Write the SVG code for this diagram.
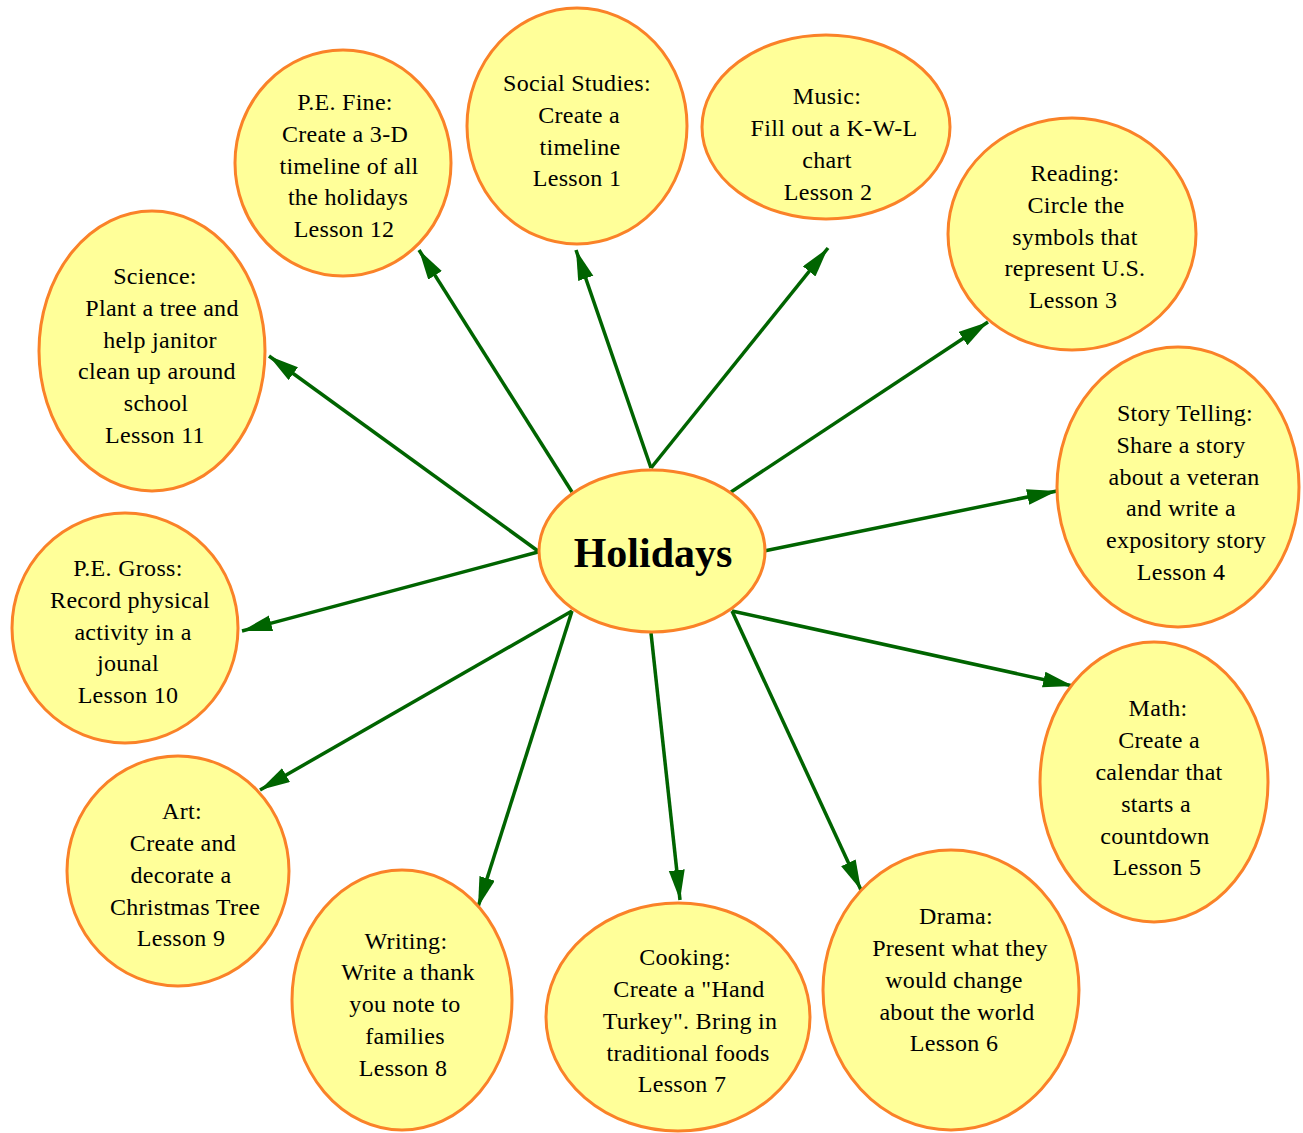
<svg xmlns="http://www.w3.org/2000/svg" width="1303" height="1133" viewBox="0 0 1303 1133">
<style>
.n{fill:#ffff99;stroke:#fa8228;stroke-width:3}
.t{font-family:"Liberation Serif","Times New Roman",serif;font-size:24px;letter-spacing:0.3px;fill:#000;text-anchor:middle;dominant-baseline:central}
.h{font-family:"Liberation Serif","Times New Roman",serif;font-size:42px;font-weight:bold;fill:#000;text-anchor:middle;dominant-baseline:central}
.e{stroke:#006400;stroke-width:3.5;fill:none;marker-end:url(#ah)}
</style>
<defs>
<marker id="ah" markerUnits="userSpaceOnUse" markerWidth="32" markerHeight="18" refX="30" refY="8" orient="auto">
<path d="M0,0 L30,8 L0,16 Z" fill="#006400"/>
</marker>
</defs>
<rect width="1303" height="1133" fill="#fff"/>
<g id="edges">
<line class="e" x1="651" y1="468" x2="576" y2="250"/>
<line class="e" x1="651" y1="468" x2="828" y2="248"/>
<line class="e" x1="572" y1="492" x2="419" y2="250"/>
<line class="e" x1="731" y1="492" x2="988" y2="322"/>
<line class="e" x1="538" y1="551" x2="269" y2="356"/>
<line class="e" x1="764" y1="551" x2="1057" y2="491"/>
<line class="e" x1="538" y1="552" x2="242" y2="631"/>
<line class="e" x1="732" y1="611" x2="1073" y2="686"/>
<line class="e" x1="572" y1="611" x2="260" y2="790"/>
<line class="e" x1="572" y1="611" x2="478" y2="907"/>
<line class="e" x1="651" y1="633" x2="680" y2="900"/>
<line class="e" x1="732" y1="611" x2="861" y2="890"/>
</g>
<g id="holidays">
<ellipse class="n" cx="652" cy="551" rx="113" ry="81"/>
<text class="h" x="653" y="553">Holidays</text>
</g>
<g id="social">
<ellipse class="n" cx="577" cy="126" rx="110" ry="118"/>
<text class="t" x="577" y="83">Social Studies:</text>
<text class="t" x="579" y="115">Create a</text>
<text class="t" x="580" y="147">timeline</text>
<text class="t" x="577" y="178">Lesson 1</text>
</g>
<g id="music">
<ellipse class="n" cx="826" cy="127" rx="124" ry="92"/>
<text class="t" x="827" y="96">Music:</text>
<text class="t" x="834" y="128">Fill out a K-W-L</text>
<text class="t" x="827" y="160">chart</text>
<text class="t" x="828" y="192">Lesson 2</text>
</g>
<g id="pefine">
<ellipse class="n" cx="343" cy="163" rx="108" ry="113"/>
<text class="t" x="345" y="102">P.E. Fine:</text>
<text class="t" x="345" y="134">Create a 3-D</text>
<text class="t" x="349" y="166">timeline of all</text>
<text class="t" x="348" y="197">the holidays</text>
<text class="t" x="344" y="229">Lesson 12</text>
</g>
<g id="reading">
<ellipse class="n" cx="1072" cy="234" rx="124" ry="116"/>
<text class="t" x="1075" y="173">Reading:</text>
<text class="t" x="1076" y="205">Circle the</text>
<text class="t" x="1075" y="237">symbols that</text>
<text class="t" x="1075" y="268">represent U.S.</text>
<text class="t" x="1073" y="300">Lesson 3</text>
</g>
<g id="science">
<ellipse class="n" cx="152" cy="351" rx="113" ry="140"/>
<text class="t" x="155" y="276">Science:</text>
<text class="t" x="162" y="308">Plant a tree and</text>
<text class="t" x="160" y="340">help janitor</text>
<text class="t" x="157" y="371">clean up around</text>
<text class="t" x="156" y="403">school</text>
<text class="t" x="155" y="435">Lesson 11</text>
</g>
<g id="story">
<ellipse class="n" cx="1178" cy="487" rx="121" ry="140"/>
<text class="t" x="1185" y="413">Story Telling:</text>
<text class="t" x="1181" y="445">Share a story</text>
<text class="t" x="1184" y="477">about a veteran</text>
<text class="t" x="1181" y="508">and write a</text>
<text class="t" x="1186" y="540">expository story</text>
<text class="t" x="1181" y="572">Lesson 4</text>
</g>
<g id="pegross">
<ellipse class="n" cx="125" cy="628" rx="113" ry="115"/>
<text class="t" x="128" y="568">P.E. Gross:</text>
<text class="t" x="130" y="600">Record physical</text>
<text class="t" x="133" y="632">activity in a</text>
<text class="t" x="128" y="663">jounal</text>
<text class="t" x="128" y="695">Lesson 10</text>
</g>
<g id="math">
<ellipse class="n" cx="1154" cy="782" rx="114" ry="140"/>
<text class="t" x="1158" y="708">Math:</text>
<text class="t" x="1159" y="740">Create a</text>
<text class="t" x="1159" y="772">calendar that</text>
<text class="t" x="1156" y="804">starts a</text>
<text class="t" x="1155" y="836">countdown</text>
<text class="t" x="1157" y="867">Lesson 5</text>
</g>
<g id="art">
<ellipse class="n" cx="178" cy="871" rx="111" ry="115"/>
<text class="t" x="182" y="811">Art:</text>
<text class="t" x="183" y="843">Create and</text>
<text class="t" x="181" y="875">decorate a</text>
<text class="t" x="185" y="907">Christmas Tree</text>
<text class="t" x="181" y="938">Lesson 9</text>
</g>
<g id="writing">
<ellipse class="n" cx="402" cy="1000" rx="110" ry="130"/>
<text class="t" x="406" y="941">Writing:</text>
<text class="t" x="408" y="972">Write a thank</text>
<text class="t" x="405" y="1004">you note to</text>
<text class="t" x="405" y="1036">families</text>
<text class="t" x="403" y="1068">Lesson 8</text>
</g>
<g id="cooking">
<ellipse class="n" cx="678" cy="1017" rx="132" ry="114"/>
<text class="t" x="685" y="957">Cooking:</text>
<text class="t" x="689" y="989">Create a "Hand</text>
<text class="t" x="690" y="1021">Turkey". Bring in</text>
<text class="t" x="688" y="1053">traditional foods</text>
<text class="t" x="682" y="1084">Lesson 7</text>
</g>
<g id="drama">
<ellipse class="n" cx="951" cy="990" rx="128" ry="140"/>
<text class="t" x="956" y="916">Drama:</text>
<text class="t" x="960" y="948">Present what they</text>
<text class="t" x="954" y="980">would change</text>
<text class="t" x="957" y="1012">about the world</text>
<text class="t" x="954" y="1043">Lesson 6</text>
</g>
</svg>
